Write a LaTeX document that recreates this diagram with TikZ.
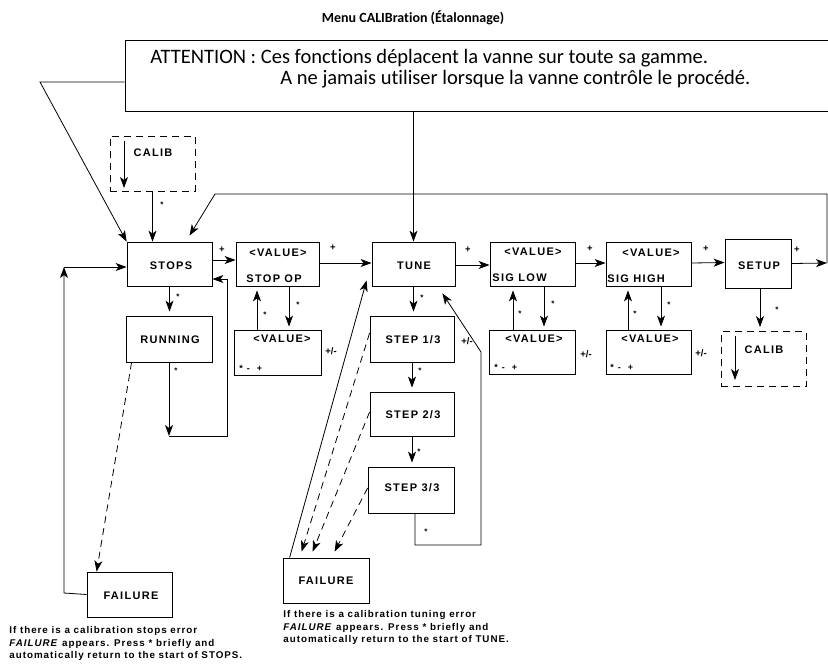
\documentclass[tikz,border=0pt]{standalone}
\usepackage{fontspec}
\setmainfont{Liberation Sans}
\newfontfamily\lblfont[LetterSpace=12]{Liberation Sans}
\newfontfamily\notefont[LetterSpace=10]{Liberation Sans}
\newfontfamily\attnfont[Ligatures=NoCommon]{Carlito}
\usetikzlibrary{arrows.meta}

\begin{document}
\begin{tikzpicture}[x=1pt, y=-1pt, line width=0.8pt,
        >={Stealth[length=11pt, width=8pt, inset=3pt]},
        box/.style={draw, minimum width=85pt, minimum height=44pt, inner sep=0pt},
        calbox/.style={draw, dash pattern=on 7pt off 5pt, minimum width=85pt, minimum height=55pt, inner sep=0pt},
        lbl/.style={font=\lblfont\bfseries\fontsize{11}{13}\selectfont, inner sep=0pt},
        sgn/.style={font=\bfseries\fontsize{9.5}{10}\selectfont, inner sep=0pt},
        star/.style={font=\bfseries\fontsize{8}{9}\selectfont, inner sep=0pt},
        keys/.style={font=\bfseries\fontsize{9}{10}\selectfont, inner sep=0pt, anchor=west},
        note/.style={font=\notefont\bfseries\fontsize{9.8}{12.5}\selectfont, align=left, anchor=north west, inner sep=0pt},
        dsh/.style={dash pattern=on 7pt off 5pt}]
    \useasboundingbox (0,0) rectangle (828,665);

    % title and warning
    \node[font=\attnfont\bfseries\fontsize{14}{16}\selectfont] (title) at (413,18) {Menu CALIBration (Étalonnage)};
    \node[draw, minimum width=703pt, minimum height=71pt, inner sep=0pt] (attn) at (476.5,75.5) {};
    \node[font=\attnfont\fontsize{20.5}{22}\selectfont, anchor=west, inner sep=0pt] (attn1) at (150,58) {ATTENTION : Ces fonctions déplacent la vanne sur toute sa gamme.};
    \node[font=\attnfont\fontsize{20.5}{22}\selectfont, anchor=west, inner sep=0pt] (attn2) at (280,79) {A ne jamais utiliser lorsque la vanne contrôle le procédé.};

    % main row
    \node[calbox]                        (calibA)  at (152.5,163.5) {};
    \node[lbl]                           (calibAt) at (153,153)     {CALIB};
    \node[box]                           (stops)   at (169.5,264)   {};
    \node[lbl]                           (stopst)  at (171,266)     {STOPS};
    \node[box, minimum width=83pt]       (val1)    at (277.5,264)   {};
    \node[lbl]                           (val1a)   at (278,253)     {<VALUE>};
    \node[lbl, anchor=west]              (val1b)   at (246,279)     {STOP OP};
    \node[box, minimum width=83pt]       (tune)    at (413.5,264)   {};
    \node[lbl]                           (tunet)   at (414,266)     {TUNE};
    \node[box]                           (val2)    at (532.5,264)   {};
    \node[lbl]                           (val2a)   at (533,252)     {<VALUE>};
    \node[lbl, anchor=west]              (val2b)   at (492,278)     {SIG LOW};
    \node[box]                           (val3)    at (648.5,264)   {};
    \node[lbl]                           (val3a)   at (651,253)     {<VALUE>};
    \node[lbl, anchor=west]              (val3b)   at (607,279)     {SIG HIGH};
    \node[box, minimum width=66pt, minimum height=49pt] (setup) at (758,263.5) {};
    \node[lbl]                           (setupt)  at (759,266)     {SETUP};
    \node[calbox]                        (calibB)  at (763.5,359)   {};
    \node[lbl]                           (calibBt) at (764,350)     {CALIB};

    % value edit boxes
    \node[box, minimum width=87pt, minimum height=45pt] (edit1) at (277.5,352.5) {};
    \node[lbl]                           (edit1a)  at (282,339)     {<VALUE>};
    \node[keys]                          (edit1k)  at (239,368)     {*\hspace{4pt}-\hspace{7pt}+};
    \node[box, minimum width=86pt]       (edit2)   at (532,352)     {};
    \node[lbl]                           (edit2a)  at (534,339)     {<VALUE>};
    \node[keys]                          (edit2k)  at (494,367)     {*\hspace{4pt}-\hspace{7pt}+};
    \node[box]                           (edit3)   at (648.5,352)   {};
    \node[lbl]                           (edit3a)  at (650,339)     {<VALUE>};
    \node[keys]                          (edit3k)  at (610,367)     {*\hspace{4pt}-\hspace{7pt}+};

    % stops and tune columns
    \node[box, minimum width=86pt, minimum height=46pt] (running) at (169,339) {};
    \node[lbl]                           (runningt) at (170,340)    {RUNNING};
    \node[box, minimum width=84pt, minimum height=46pt] (step1) at (412,339) {};
    \node[lbl]                           (step1t)  at (413,340)     {STEP 1/3};
    \node[box, minimum width=84pt]       (step2)   at (412,414)     {};
    \node[lbl]                           (step2t)  at (413,415)     {STEP 2/3};
    \node[box, minimum width=86pt, minimum height=46pt] (step3) at (411,490) {};
    \node[lbl]                           (step3t)  at (412,488)     {STEP 3/3};
    \node[box, minimum height=45pt]      (fail1)   at (129.5,594.5) {};
    \node[lbl]                           (fail1t)  at (131,596)     {FAILURE};
    \node[box, minimum width=86pt, minimum height=45pt] (fail2) at (326,580.5) {};
    \node[lbl]                           (fail2t)  at (326,581)     {FAILURE};

    % notes
    \node[note] (note1) at (9,626) {If there is a calibration stops error\\\textit{FAILURE} appears. Press * briefly and\\automatically return to the start of STOPS.};
    \node[note] (note2) at (283,610) {If there is a calibration tuning error\\\textit{FAILURE} appears. Press * briefly and\\automatically return to the start of TUNE.};

    % bends
    \coordinate (attl)   at (40,82);
    \coordinate (loopin) at (827,263);
    \coordinate (loopr)  at (827,194);
    \coordinate (loopl)  at (215,194);
    \coordinate (runbot) at (169,436);
    \coordinate (runret) at (227,436);
    \coordinate (f1l)    at (64,593);
    \coordinate (f1t)    at (64,267);
    \coordinate (s3b)    at (415,545);
    \coordinate (s3r)    at (481,545);
    \coordinate (s3u)    at (481,352);
    \coordinate (cain1)  at (124,141);
    \coordinate (cain2)  at (124,188);
    \coordinate (cbin1)  at (735,336);
    \coordinate (cbin2)  at (735,380);

    % connectors
    \draw[->] (attl -| attn.west) -- (attl) -- (stops.north west);
    \draw[->] (tune.north |- attn.south) -- (tune.north);
    \draw[->] (cain1) -- (cain2);
    \draw[->] (cbin1) -- (cbin2);
    \draw[->] (calibA.south) -- (calibA.south |- stops.north);
    \draw[->] (setup.east) -- (loopin);
    \draw[->] (loopin) -- (loopr) -- (loopl) -- ([xshift=20pt, yshift=6pt]stops.north);

    \draw[->] ([yshift=4pt]stops.east) -- ([yshift=4pt]val1.west);
    \draw[->] ([yshift=1pt]val1.east) -- ([yshift=1pt]tune.west);
    \draw[->] ([yshift=-1pt]tune.east) -- ([yshift=-1pt]val2.west);
    \draw[->] ([yshift=1pt]val2.east) -- ([yshift=1pt]val3.west);
    \draw[->] ([yshift=1pt]val3.east) -- ([yshift=1pt]setup.west);
    \draw[->] ([xshift=2pt]setup.south) -- ([xshift=-3.5pt, yshift=4pt]calibB.north);

    \draw[->] ([xshift=11.5pt]val1.south) -- ([xshift=11.5pt, yshift=3pt]edit1.north);
    \draw[->] ([xshift=-20.5pt]edit1.north) -- ([xshift=-20.5pt, yshift=-4pt]val1.south);
    \draw[->] ([xshift=11.5pt]val2.south) -- ([xshift=12pt, yshift=3pt]edit2.north);
    \draw[->] ([xshift=-19pt]edit2.north) -- ([xshift=-19.5pt, yshift=-4pt]val2.south);
    \draw[->] ([xshift=12.5pt]val3.south) -- ([xshift=12.5pt, yshift=3pt]edit3.north);
    \draw[->] ([xshift=-20.5pt]edit3.north) -- ([xshift=-20.5pt, yshift=-4pt]val3.south);

    \draw[->] (stops.south) -- ([yshift=4pt]stops.south |- running.north);
    \draw[->] (running.south) -- (runbot);
    \draw[->] (runbot) -- (runret) |- ([yshift=-15pt]stops.east);
    \draw[->, dsh] ([xshift=6pt]running.south west) -- ([xshift=10pt]fail1.north west);
    \draw[->] (fail1.west) -- (f1l) -- (f1t);
    \draw[->] (f1t) -- ([yshift=-3pt]stops.west);

    \draw[->] (tune.south) -- ([yshift=4pt]tune.south |- step1.north);
    \draw[->] (step1.south) -- ([yshift=4pt]step1.south |- step2.north);
    \draw[->] (step2.south) -- ([yshift=4pt]step2.south |- step3.north);
    \draw[->] (s3b |- step3.south) -- (s3b) -- (s3r) -- (s3u) -- ([xshift=-13pt, yshift=-7pt]tune.south east);
    \draw[->] ([xshift=7pt]fail2.north west) -- ([xshift=-5pt, yshift=6pt]tune.south west);
    \draw[->, dsh] ([yshift=6pt]step1.west) -- ([xshift=19pt, yshift=6pt]fail2.north west);
    \draw[->, dsh] ([yshift=2pt]step2.west) -- ([xshift=30pt, yshift=6pt]fail2.north west);
    \draw[->, dsh] ([yshift=2pt]step3.west) -- ([xshift=52pt, yshift=6pt]fail2.north west);

    % signs
    \node[sgn] (p1) at (222,250) {+};
    \node[sgn] (p2) at (333,248) {+};
    \node[sgn] (p3) at (468,250) {+};
    \node[sgn] (p4) at (590,249) {+};
    \node[sgn] (p5) at (706,249) {+};
    \node[sgn] (p6) at (797,250) {+};
    \node[sgn] (pm1) at (331,351) {+/-};
    \node[sgn] (pm2) at (467,341) {+/-};
    \node[sgn] (pm3) at (586,354) {+/-};
    \node[sgn] (pm4) at (701,353) {+/-};
    \node[star] (s1)  at (162,205) {*};
    \node[star] (s2)  at (178,297) {*};
    \node[star] (s3)  at (298,305) {*};
    \node[star] (s4)  at (265,315) {*};
    \node[star] (s5)  at (176,371) {*};
    \node[star] (s6)  at (422,298) {*};
    \node[star] (s7)  at (420,371) {*};
    \node[star] (s8)  at (419,452) {*};
    \node[star] (s9)  at (426,532) {*};
    \node[star] (s10) at (553,304) {*};
    \node[star] (s11) at (520,314) {*};
    \node[star] (s12) at (669,305) {*};
    \node[star] (s13) at (635,314) {*};
    \node[star] (s14) at (777,310) {*};
\end{tikzpicture}
\end{document}
